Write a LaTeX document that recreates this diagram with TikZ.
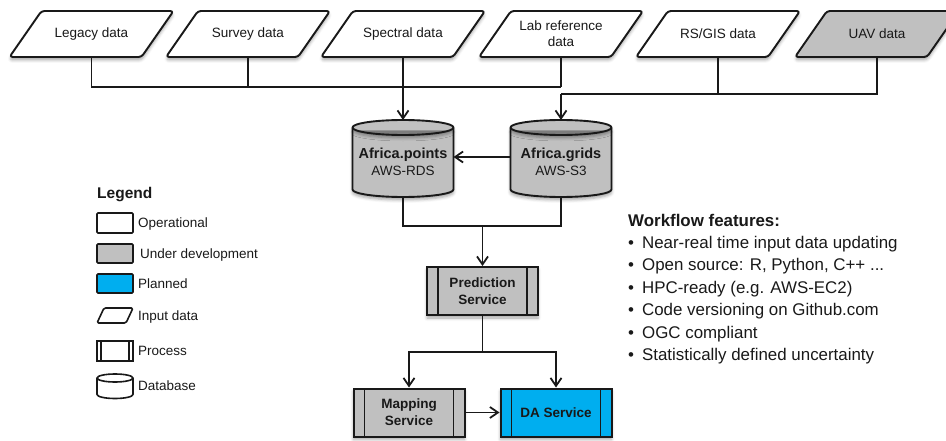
\documentclass[tikz,border=0pt]{standalone}
\usepackage{fontspec}
\setmainfont{Liberation Sans}
\usetikzlibrary{arrows.meta,shadows.blur}
\definecolor{devgray}{RGB}{192,192,192}
\definecolor{planblue}{RGB}{0,174,239}
\definecolor{edge}{RGB}{25,25,25}
\newcommand{\featitem}[1]{\textbullet\hspace{8pt}#1}
% input-data parallelogram centred at x=#1 (rows 11..57)
\newcommand{\inshape}[2]{%
  \path[inshape, soft, fill=#2] (#1-82,57) -- (#1-50,11) -- (#1+82,11) -- (#1+50,57) -- cycle;}
% database cylinder: centre x, top, bottom, x radius, y radius, fill, extra options
\newcommand{\dbshape}[7]{%
  \path[draw=edge, fill=#6, line join=round, #7]
    (#1-#4,#2+#5) -- (#1-#4,#3-#5)
    arc[start angle=180, end angle=0, x radius=#4, y radius=#5]
    -- (#1+#4,#2+#5)
    arc[start angle=0, end angle=-180, x radius=#4, y radius=#5] -- cycle;
  \draw[edge, #7, blur shadow/.style={}] (#1-#4,#2+#5)
    arc[start angle=180, end angle=0, x radius=#4, y radius=#5];}
\begin{document}
\begin{tikzpicture}[x=1pt,y=-1pt,
  every node/.style={font=\fontsize{13.5}{16}\selectfont, text=black!90},
  soft/.style={blur shadow={shadow xshift=0pt, shadow yshift=-3pt, shadow blur radius=3pt, shadow opacity=35}},
  inshape/.style={draw=edge, line width=1.9pt, rounded corners=3pt, line join=round},
  inlabel/.style={rectangle, minimum width=132pt, minimum height=46pt, inner sep=0pt, align=center},
  dbhold/.style={rectangle, minimum width=101pt, minimum height=77pt, inner sep=0pt, outer sep=0pt},
  dbtext/.style={align=center, inner sep=0pt, font=\fontsize{13.5}{17}\selectfont},
  proc/.style={rectangle, draw=edge, line width=2pt, minimum width=111pt,
    minimum height=48pt, inner sep=0pt, align=center,
    font=\bfseries\fontsize{13.5}{17}\selectfont,
    path picture={\draw[edge, line width=1.8pt]
      ([xshift=#1]path picture bounding box.north west) -- ([xshift=#1]path picture bounding box.south west)
      ([xshift=-#1]path picture bounding box.north east) -- ([xshift=-#1]path picture bounding box.south east);}},
  proc/.default=11pt,
  link/.style={draw=edge, line width=1.8pt},
  arr/.style={-{Straight Barb[length=8pt,width=11pt]}},
  legsq/.style={rectangle, draw=edge, line width=1.6pt, minimum width=36pt, minimum height=19pt,
    inner sep=0pt, rounded corners=1pt},
  legtext/.style={anchor=base west, inner sep=0pt, font=\fontsize{13.5}{16}\selectfont},
  feat/.style={anchor=base west, inner sep=0pt, font=\fontsize{16.9}{20}\selectfont}
]
\useasboundingbox (0,0) rectangle (946,441);

% input data sources
\inshape{91.5}{white}
\inshape{248}{white}
\inshape{403}{white}
\inshape{561}{white}
\inshape{718}{white}
\inshape{877}{devgray}
\node[inlabel] (leg) at (91.5,34) {Legacy data};
\node[inlabel] (sur) at (248,34) {Survey data};
\node[inlabel] (spe) at (403,34) {Spectral data};
\node[inlabel] (lab) at (561,34) {Lab reference\\data};
\node[inlabel] (rsg) at (718,34) {RS/GIS data};
\node[inlabel] (uav) at (877,34) {UAV data};

% databases
\dbshape{403}{120}{197}{50.5}{7.5}{devgray}{line width=1.9pt, soft}
\dbshape{561}{120}{197}{50.5}{7.5}{devgray}{line width=1.9pt, soft}
\node[dbhold] (pts) at (403,158.5) {};
\node[dbhold] (gri) at (561,158.5) {};
\node[dbtext] (ptsT) at (403,162) {{\bfseries\fontsize{14.5}{17}\selectfont Africa.points}\\AWS-RDS};
\node[dbtext] (griT) at (561,162) {{\bfseries\fontsize{14.5}{17}\selectfont Africa.grids}\\AWS-S3};

% services
\node[proc, soft, fill=devgray] (pre) at (482.5,291) {Prediction\\Service};
\node[proc, soft, fill=devgray] (map) at (409,412.5) {Mapping\\Service};
\node[proc, soft, fill=planblue] (das) at (556,412.5) {DA Service};

% bus levels
\coordinate (busA) at (0,87);
\coordinate (busB) at (0,94);
\coordinate (busC) at (0,226);
\coordinate (busD) at (0,352);

% connectors
\draw[link] (leg.south) |- (lab.south |- busA);
\draw[link] (sur.south) -- (sur.south |- busA);
\draw[link] (lab.south) -- (lab.south |- busA);
\draw[link, arr] (spe.south) -- (pts.north);
\draw[link] (uav.south) |- (gri.north |- busB);
\draw[link] (rsg.south) -- (rsg.south |- busB);
\draw[link, arr] (gri.north |- busB) -- (gri.north);
\draw[link, arr] ([yshift=1.5pt]gri.west) -- ([yshift=1.5pt]pts.east);
\draw[link] (pts.south) |- (gri.south |- busC) -- (gri.south);
\draw[link, arr] (pre.north |- busC) -- (pre.north);
\draw[link, arr] (pre.south) |- (map.north |- busD) -- (map.north);
\draw[link, arr] (pre.south |- busD) -| (das.north);
\draw[link, arr] (map.east) -- (das.west);

% legend
\node[anchor=base west, inner sep=0pt, font=\bfseries\fontsize{15.5}{18}\selectfont] (legt) at (97,198.5) {Legend};
\node[legsq, fill=white, minimum height=20pt] (k1) at (115,223) {};
\node[legtext] (t1) at (138,227.5) {Operational};
\node[legsq, fill=devgray] (k2) at (115,253.5) {};
\node[legtext] (t2) at (140,258.5) {Under development};
\node[legsq, fill=planblue] (k3) at (115,283.5) {};
\node[legtext] (t3) at (138,288.5) {Planned};
\path[draw=edge, line width=1.6pt, fill=white, rounded corners=1.5pt, line join=round]
  (97,323) -- (104,308) -- (133,308) -- (126,323) -- cycle;
\node[legtext] (t4) at (138,320.5) {Input data};
\node[proc=4pt, fill=white, minimum width=36pt, minimum height=20pt, line width=1.6pt] (k5) at (115,351) {};
\node[legtext] (t5) at (138,355.5) {Process};
\dbshape{115}{374}{398.5}{18}{4}{white}{line width=1.6pt}
\node[legtext] (t6) at (138,390.5) {Database};

% workflow features
\node[feat, font=\bfseries\fontsize{16.9}{20}\selectfont] (ft) at (628,226) {Workflow features:};
\node[feat] (f1) at (628,248.5) {\featitem{Near-real time input data updating}};
\node[feat] (f2) at (628,270.9) {\featitem{Open source: R, Python, C++ ...}};
\node[feat] (f3) at (628,293.3) {\featitem{HPC-ready (e.g. AWS-EC2)}};
\node[feat] (f4) at (628,315.7) {\featitem{Code versioning on Github.com}};
\node[feat] (f5) at (628,338.1) {\featitem{OGC compliant}};
\node[feat] (f6) at (628,360.5) {\featitem{Statistically defined uncertainty}};
\end{tikzpicture}
\end{document}
